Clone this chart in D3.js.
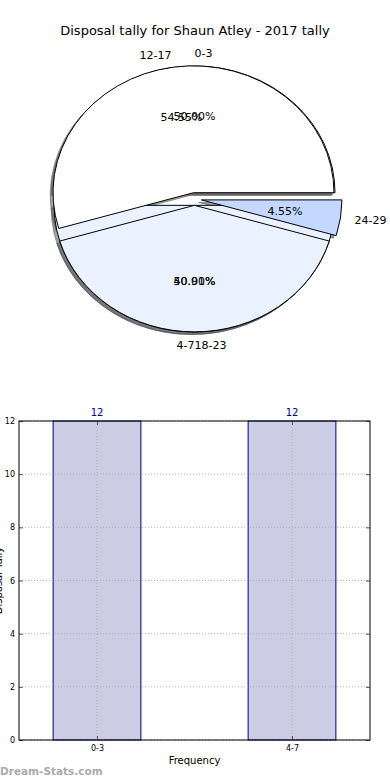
<!DOCTYPE html>
<html>
<head>
<meta charset="utf-8">
<script src="https://cdn.jsdelivr.net/npm/d3@7"></script>
<style>
  body { margin:0; background:#fff; }
  svg { display:block; font-family:"DejaVu Sans", sans-serif; }
</style>
</head>
<body>
<svg width="390" height="780"></svg>
<script>
const title = 'Disposal tally for Shaun Atley - 2017 tally';

// two pies drawn on top of each other (as in the original)
const pieA_labels = ['0-3', '4-7'];
const pieA_values = [12, 12];
const pieB_labels = ['12-17', '18-23', '24-29'];
const pieB_values = [12, 9, 1];
const pieColors = ['#ffffff', '#ebf2ff', '#c4d8ff'];

// bar chart
const barCats = ['0-3', '4-7'];
const barVals = [12, 12];
const yTicks = [0, 2, 4, 6, 8, 10, 12];

const svg = d3.select('svg');
const W = 390;

svg.append('text').attr('x', W/2).attr('y', 35).attr('text-anchor', 'middle')
  .style('font-size', '13px').text(title);

// ---- pie ----
const cx = 194.5, cy = 199, rx = 140.5, ry = 126.7, explode = 0.05;

const pie = d3.pie().sort(null).startAngle(Math.PI/2).endAngle(Math.PI/2 - 2*Math.PI);
const arc = d3.arc().innerRadius(0).outerRadius(1);

// tieSide: label side when the slice middle points straight up/down
function slices(labels, values, tieSide) {
  return pie(values).map((d, i) => {
    const m = (d.startAngle + d.endAngle) / 2;
    const dx = Math.sin(m), dy = -Math.cos(m);
    let anchor = dx > 0 ? 'start' : 'end';
    if (Math.abs(dx) < 1e-6) anchor = dy < 0 ? 'start' : tieSide;
    return {d, label: labels[i], color: pieColors[i], anchor,
      pct: (d.value / d3.sum(values) * 100).toFixed(2) + '%',
      dx, dy, ox: cx + explode*rx*dx, oy: cy + explode*ry*dy};
  });
}
const A = slices(pieA_labels, pieA_values, 'end'), B = slices(pieB_labels, pieB_values, 'start');
const all = A.concat(B);

const dark = s => { const c = d3.rgb(s.color); return d3.rgb(c.r*0.3, c.g*0.3, c.b*0.3); };

const gPie = svg.append('g');
// shadows under everything
gPie.selectAll('path.shadow').data(all).enter().append('path')
  .attr('class', 'shadow')
  .attr('d', s => arc(s.d))
  .attr('transform', s => `translate(${s.ox - 0.02*rx},${s.oy + 0.02*ry}) scale(${rx},${ry})`)
  .attr('fill', dark).attr('fill-opacity', 0.5)
  .attr('stroke', dark).attr('stroke-opacity', 0.5)
  .attr('vector-effect', 'non-scaling-stroke');

gPie.selectAll('path.wedge').data(all).enter().append('path')
  .attr('class', 'wedge')
  .attr('d', s => arc(s.d))
  .attr('transform', s => `translate(${s.ox},${s.oy}) scale(${rx},${ry})`)
  .attr('fill', s => s.color)
  .attr('stroke', '#000').attr('stroke-width', 1)
  .attr('stroke-linejoin', 'round')
  .attr('vector-effect', 'non-scaling-stroke');

gPie.selectAll('text.lab').data(all).enter().append('text')
  .attr('class', 'lab')
  .attr('x', s => s.ox + 1.1*rx*s.dx)
  .attr('y', s => s.oy + 1.1*ry*s.dy)
  .attr('dy', '0.35em')
  .attr('text-anchor', s => s.anchor)
  .style('font-size', '11px').text(s => s.label);

gPie.selectAll('text.pct').data(all).enter().append('text')
  .attr('class', 'pct')
  .attr('x', s => s.ox + 0.6*rx*s.dx)
  .attr('y', s => s.oy + 0.6*ry*s.dy)
  .attr('dy', '0.35em')
  .attr('text-anchor', 'middle')
  .style('font-size', '11px').text(s => s.pct);

// ---- bar chart ----
const x0 = 19, x1 = 370, y0 = 740, y1 = 421;
const x = d3.scaleLinear().domain([-0.4, barCats.length - 1 + 0.4]).range([x0, x1]);
const y = d3.scaleLinear().domain([0, 12]).range([y0, y1]);
const bw = 0.45;

const gBar = svg.append('g');
gBar.selectAll('rect.bar').data(barVals).enter().append('rect')
  .attr('x', (v, i) => x(i - bw/2))
  .attr('width', (v, i) => x(i + bw/2) - x(i - bw/2))
  .attr('y', v => y(v)).attr('height', v => y(0) - y(v))
  .attr('fill', '#ccccE5').attr('stroke', '#000080').attr('stroke-width', 1);

// grid
gBar.selectAll('line.hg').data(yTicks).enter().append('line')
  .attr('x1', x0).attr('x2', x1).attr('y1', d => y(d)).attr('y2', d => y(d))
  .attr('stroke', '#b0b0b0').attr('stroke-dasharray', '1,2');
gBar.selectAll('line.vg').data(barCats).enter().append('line')
  .attr('x1', (d, i) => x(i)).attr('x2', (d, i) => x(i)).attr('y1', y0).attr('y2', y1)
  .attr('stroke', '#b0b0b0').attr('stroke-dasharray', '1,2');

// axes
const yAxis = d3.axisLeft(y).tickValues(yTicks).tickSize(-4).tickPadding(4);
const ga = gBar.append('g').attr('transform', `translate(${x0},0)`).call(yAxis);
ga.select('.domain').remove();
ga.selectAll('text').style('font-size', '8px').style('font-family', '"DejaVu Sans"');
ga.selectAll('line').attr('stroke', '#555');
const yAxisR = d3.axisRight(y).tickValues(yTicks).tickSize(-4).tickFormat('');
const gr = gBar.append('g').attr('transform', `translate(${x1},0)`).call(yAxisR);
gr.select('.domain').remove(); gr.selectAll('line').attr('stroke', '#555');

const xAxis = d3.axisBottom(x).tickValues(d3.range(barCats.length))
  .tickFormat(i => barCats[i]).tickSize(-4).tickPadding(5);
const gx = gBar.append('g').attr('transform', `translate(0,${y0})`).call(xAxis);
gx.select('.domain').remove();
gx.selectAll('text').style('font-size', '8px').style('font-family', '"DejaVu Sans"');
gx.selectAll('line').attr('stroke', '#555');
const xAxisT = d3.axisTop(x).tickValues(d3.range(barCats.length)).tickSize(-4).tickFormat('');
const gt = gBar.append('g').attr('transform', `translate(0,${y1})`).call(xAxisT);
gt.select('.domain').remove(); gt.selectAll('line').attr('stroke', '#555');

gBar.append('rect').attr('x', x0).attr('y', y1).attr('width', x1 - x0).attr('height', y0 - y1)
  .attr('fill', 'none').attr('stroke', '#000').attr('stroke-width', 1);

// value labels
gBar.selectAll('text.val').data(barVals).enter().append('text')
  .attr('x', (v, i) => x(i)).attr('y', v => y(v) - 5)
  .attr('text-anchor', 'middle').attr('fill', '#000080')
  .style('font-size', '10px').text(v => v);

svg.append('text').attr('x', (x0 + x1)/2).attr('y', 764).attr('text-anchor', 'middle')
  .style('font-size', '10px').text('Frequency');
svg.append('text').attr('transform', `translate(2,${(y0 + y1)/2}) rotate(-90)`)
  .attr('text-anchor', 'middle').style('font-size', '10px').text('Disposal Tally');

svg.append('text').attr('x', 0).attr('y', 775)
  .style('font-size', '10.5px').style('font-weight', 'bold').attr('fill', '#aaaaaa')
  .text('Dream-Stats.com');
</script>
</body>
</html>
